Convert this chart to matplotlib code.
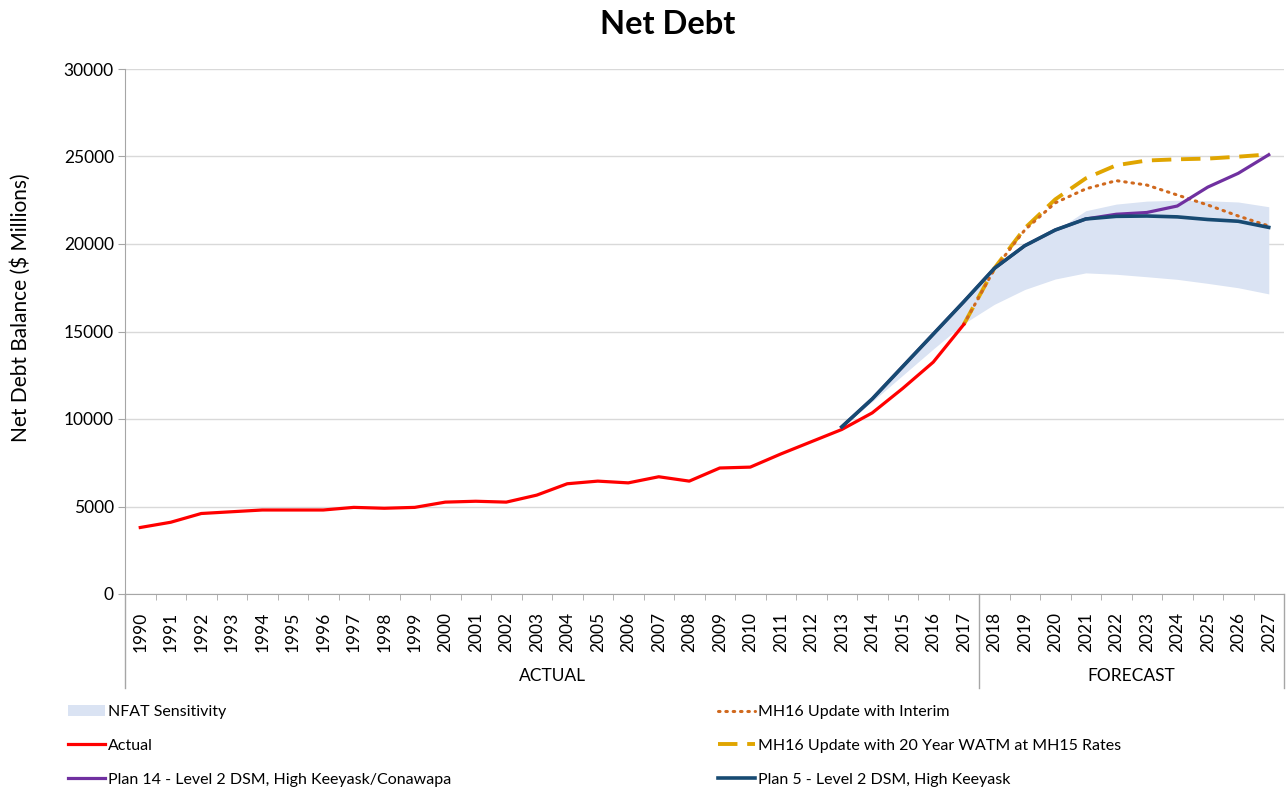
import matplotlib
matplotlib.use("Agg")
import matplotlib.pyplot as plt
from matplotlib.lines import Line2D
from matplotlib.patches import Patch
import numpy as np

years = [str(y) for y in range(1990, 2028)]

actual = [3800, 4100, 4600, 4700, 4800, 4800, 4800, 4950, 4900, 4950,
          5250, 5300, 5250, 5650, 6300, 6450, 6350, 6700, 6450, 7200,
          7250, 8000, 8700, 9400, 10350, 11750, 13250, 15400]          # 1990-2017

plan5 = [9550, 11150, 13000, 14850, 16700, 18600, 19900, 20800, 21430,
         21580, 21600, 21550, 21400, 21300, 20950]                     # 2013-2027
plan14 = [9550, 11150, 13000, 14850, 16700, 18600, 19900, 20800, 21430,
          21700, 21800, 22170, 23250, 24040, 25100]                    # 2013-2027

interim = [15400, 18550, 20800, 22350, 23150, 23620, 23370, 22800, 22230,
           21600, 21030]                                               # 2017-2027
watm = [15400, 18600, 20900, 22550, 23750, 24500, 24770, 24840, 24880,
        24990, 25120]                                                  # 2017-2027

nfat_low = [9550, 11000, 12500, 14000, 15450, 16550, 17400, 18000, 18350,
            18270, 18130, 17980, 17750, 17500, 17150]                  # 2013-2027
nfat_high = [9550, 11100, 12950, 14800, 16600, 18500, 19800, 20750, 21900,
             22280, 22450, 22500, 22470, 22400, 22130]                 # 2013-2027

groups = ["ACTUAL", "FORECAST"]
group_sizes = [28, 10]

plt.rcParams['font.family'] = ['Lato', 'DejaVu Sans']

W, H = 1287, 787
fig = plt.figure(figsize=(W / 100, H / 100), dpi=100)
ax = fig.add_axes([125 / W, 1 - 594 / H, (1284 - 125) / W, (594 - 69) / H])

x_all = np.arange(len(years))
i2013 = years.index("2013")
i2017 = years.index("2017")
x13 = x_all[i2013:]
x17 = x_all[i2017:]
xa = x_all[:len(actual)]

c_band = "#DAE3F3"
c_red = "#FF0000"
c_purple = "#7030A0"
c_navy = "#174A72"
c_gold = "#E0A500"
c_orange = "#D0691E"

dash_gold = (5, 2.5)
dot_orange = (0, (0.5, 1.9))

ax.fill_between(x13, nfat_low, nfat_high, color=c_band, lw=0, zorder=1)
ax.plot(x17, watm, color=c_gold, lw=2.8, dashes=dash_gold, zorder=3)
ax.plot(x17, interim, color=c_orange, lw=2.2, ls=dot_orange,
        dash_capstyle="round", zorder=4)
ax.plot(xa, actual, color=c_red, lw=2.3, zorder=5)
ax.plot(x13, plan14, color=c_purple, lw=2.3, zorder=5)
ax.plot(x13, plan5, color=c_navy, lw=2.6, zorder=6)

ax.set_xlim(-0.5, len(years) - 0.5)
ax.set_ylim(0, 30000)
ax.set_yticks(np.arange(0, 30001, 5000))
ax.yaxis.grid(True, color="#D9D9D9", lw=1)
ax.set_axisbelow(True)
for s in ["top", "right"]:
    ax.spines[s].set_visible(False)
ax.spines["left"].set_color("#A6A6A6")
ax.spines["bottom"].set_color("#A6A6A6")
ax.tick_params(axis="y", length=5, color="#A6A6A6", labelsize=12.5, pad=3)

ax.set_xticks(x_all)
ax.set_xticklabels(years, rotation=90, fontsize=12.5)
ax.tick_params(axis="x", length=0, pad=13)
ax.set_xticks(np.arange(-0.5, len(years), 1), minor=True)
ax.tick_params(axis="x", which="minor", length=4, color="#A6A6A6")

ax.set_ylabel("Net Debt Balance ($ Millions)", fontsize=15)
ax.yaxis.set_label_coords((31 - 125) / (1284 - 125), (594 - 308) / (594 - 69))

# group separators and labels
trans = ax.get_xaxis_transform()
ybot = -(688 - 594) / (594 - 69)
start = -0.5
bounds = [start]
for g, n in zip(groups, group_sizes):
    end = start + n
    ax.text((start + end) / 2, -(676 - 594) / (594 - 69), g, transform=trans,
            ha="center", va="center", fontsize=12.5)
    bounds.append(end)
    start = end
for b in bounds:
    ax.add_line(Line2D([b, b], [0, ybot], transform=trans, color="#A6A6A6",
                       lw=1, clip_on=False))

fig.text(668 / W, 1 - 25 / H, "Net Debt", ha="center", va="center",
         fontsize=23.5, fontweight="bold")

h_left = [Patch(facecolor=c_band, edgecolor="none"),
          Line2D([], [], color=c_red, lw=2.3),
          Line2D([], [], color=c_purple, lw=2.3)]
l_left = ["NFAT Sensitivity", "Actual", "Plan 14 - Level 2 DSM, High Keeyask/Conawapa"]
h_right = [Line2D([], [], color=c_orange, lw=2.2, ls=dot_orange, dash_capstyle="round"),
           Line2D([], [], color=c_gold, lw=2.8, dashes=dash_gold),
           Line2D([], [], color=c_navy, lw=2.6)]
l_right = ["MH16 Update with Interim", "MH16 Update with 20 Year WATM at MH15 Rates",
           "Plan 5 - Level 2 DSM, High Keeyask"]

common = dict(frameon=False, fontsize=11.5, handlelength=2.3, handletextpad=0.2,
              labelspacing=1.22, borderpad=0, borderaxespad=0, loc="upper left")
leg1 = fig.legend(h_left, l_left, bbox_to_anchor=(68 / W, 1 - 705 / H), **common)
leg2 = fig.legend(h_right, l_right, bbox_to_anchor=(718 / W, 1 - 705 / H), **common)

fig.savefig("out.png", dpi=100)
